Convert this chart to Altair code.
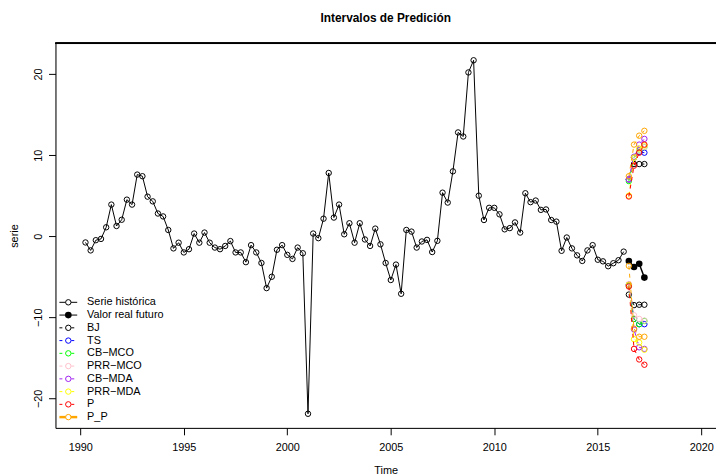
import altair as alt
import pandas as pd

# ---------------- data ----------------
serie = [-0.77, -1.75, -0.49, -0.33, 1.10, 3.90, 1.26, 2.03, 4.51, 3.90,
         7.60, 7.40, 4.88, 4.30, 2.80, 2.44, 0.77, -1.50, -0.80, -2.00,
         -1.60, 0.33, -0.80, 0.45, -0.80, -1.40, -1.60, -1.20, -0.60, -2.00,
         -2.00, -3.20, -1.10, -2.00, -3.30, -6.40, -5.00, -1.67, -1.10, -2.30,
         -2.80, -1.40, -2.10, -21.90, 0.33, -0.24, 2.16, 7.80, 2.30, 3.90,
         0.24, 1.60, -0.80, 1.60, -0.40, -1.20, 0.94, -1.00, -3.30, -5.40,
         -3.50, -7.10, 0.77, 0.57, -1.40, -0.65, -0.45, -1.95, -0.57, 5.37,
         4.15, 8.00, 12.80, 12.30, 20.20, 21.70, 5.00, 2.00, 3.50, 3.50,
         2.70, 0.85, 1.00, 1.70, 0.45, 5.30, 4.20, 4.40, 3.25, 3.30,
         2.00, 1.80, -1.80, -0.16, -1.50, -2.36, -3.05, -1.75, -1.10, -2.90,
         -3.10, -3.70, -3.33, -2.96, -1.90]
inicio = 1990.25
frecuencia = 4
tiempo = [inicio + i / frecuencia for i in range(len(serie))]

futuro = [-3.05, -3.80, -3.40, -5.10]
t_futuro = [2016.50, 2016.75, 2017.00, 2017.25]

metodos = ["BJ", "TS", "CB-MCO", "PRR-MCO", "CB-MDA", "PRR-MDA", "P", "P_P"]
colores = ["#000000", "#0000FF", "#00FF00", "#FFC0CB", "#A020F0", "#FFFF00", "#FF0000", "#FFA500"]

superior = {
    "BJ":      [7.0, 8.9, 8.9, 8.9],
    "TS":      [7.0, 9.7, 10.4, 10.3],
    "CB-MCO":  [6.8, 9.7, 10.6, 11.0],
    "PRR-MCO": [7.0, 9.7, 10.6, 11.0],
    "CB-MDA":  [7.0, 9.8, 11.3, 12.0],
    "PRR-MDA": [5.0, 9.7, 10.8, 11.2],
    "P":       [4.9, 8.7, 10.3, 11.3],
    "P_P":     [7.4, 11.3, 12.4, 13.0],
}
inferior = {
    "BJ":      [-7.2, -8.5, -8.45, -8.45],
    "TS":      [-6.0, -10.2, -10.85, -10.85],
    "CB-MCO":  [-6.1, -10.2, -10.85, -10.45],
    "PRR-MCO": [-5.9, -9.75, -10.2, -10.4],
    "CB-MDA":  [-6.0, -11.5, -13.7, -13.9],
    "PRR-MDA": [-6.0, -12.7, -13.1, -14.0],
    "P":       [-6.2, -13.9, -15.2, -15.85],
    "P_P":     [-3.66, -11.4, -12.4, -12.4],
}

leyenda_txt = ["Serie histórica", "Valor real futuro", "BJ", "TS", "CB\u2212MCO",
               "PRR\u2212MCO", "CB\u2212MDA", "PRR\u2212MDA", "P", "P_P"]
leyenda_col = ["#000000", "#000000"] + colores
leyenda_lin = ["solid", "solid"] + ["dashed"] * 7 + ["thick"]
leyenda_rel = ["open", "filled"] + ["open"] * 8

# ---------------- tables ----------------
hist_df = pd.DataFrame({"t": tiempo, "v": serie})
fut_df = pd.DataFrame({"t": t_futuro, "v": futuro})
rows = []
for m in metodos:
    for lim, d in (("sup", superior), ("inf", inferior)):
        for t, v in zip(t_futuro, d[m]):
            rows.append({"metodo": m, "limite": lim, "t": t, "v": v})
int_df = pd.DataFrame(rows)
leg_df = pd.DataFrame({"etiqueta": leyenda_txt, "color": leyenda_col,
                       "linea": leyenda_lin, "relleno": leyenda_rel,
                       "i": list(range(len(leyenda_txt)))})

FONT = "Liberation Sans"
W, H = 668, 389

xs = alt.Scale(domain=[1988.8, 2020.71], nice=False, zero=False)
ys = alt.Scale(domain=[-23.64, 23.80], nice=False, zero=False)
xaxis = alt.Axis(values=[1990, 1995, 2000, 2005, 2010, 2015, 2020], format="d",
                 grid=False, tickSize=7, tickColor="black", domainColor="black",
                 labelFont=FONT, labelFontSize=11, labelColor="black", labelPadding=7,
                 labelFlush=False, title="Time", titleFont=FONT, titleFontSize=11,
                 titleFontWeight="normal", titleColor="black", titlePadding=12)
yaxis = alt.Axis(values=[-20, -10, 0, 10, 20], grid=False, tickSize=7,
                 tickColor="black", domainColor="black", labelFont=FONT,
                 labelFontSize=11, labelColor="black", labelAngle=270,
                 labelAlign="center", labelBaseline="bottom", labelPadding=5,
                 labelFlush=False, title="serie", titleFont=FONT, titleFontSize=11,
                 titleFontWeight="normal", titleColor="black", titlePadding=13)

X = alt.X("t:Q", scale=xs, axis=xaxis)
Y = alt.Y("v:Q", scale=ys, axis=yaxis)

hist_line = alt.Chart(hist_df).mark_line(color="black", strokeWidth=1).encode(x=X, y=Y)
hist_pts = alt.Chart(hist_df).mark_point(shape="circle", filled=False, color="black",
                                         size=30, strokeWidth=1, opacity=1).encode(x=X, y=Y)
fut_line = alt.Chart(fut_df).mark_line(color="black", strokeWidth=1.5).encode(x=X, y=Y)
fut_pts = alt.Chart(fut_df).mark_point(shape="circle", filled=True, color="black",
                                       size=45, opacity=1).encode(x=X, y=Y)

capas = [hist_line, hist_pts, fut_line, fut_pts]
for m, c in zip(metodos, colores):
    base = alt.Chart(int_df).transform_filter(alt.datum.metodo == m)
    capas.append(base.mark_line(color=c, strokeWidth=1, strokeDash=[4, 4]).encode(
        x=X, y=Y, detail="limite:N"))
    capas.append(base.mark_point(shape="circle", filled=False, color=c, size=30,
                                 strokeWidth=1, opacity=1).encode(x=X, y=Y))
main = alt.layer(*capas)

# ---------------- legend (drawn like R's legend) ----------------
lb = alt.Chart(leg_df).transform_calculate(ly="262 + 12.9 * datum.i")
LY = alt.Y("ly:Q", scale=None, axis=None)
LC = alt.Color("color:N", scale=None)
leg_solid = lb.transform_filter("datum.linea == 'solid'").mark_rule(strokeWidth=1).encode(
    x=alt.value(4), x2=alt.value(22), y=LY, color=LC)
leg_dash = lb.transform_filter("datum.linea == 'dashed'").mark_rule(
    strokeWidth=1, strokeDash=[3, 3]).encode(x=alt.value(4), x2=alt.value(22), y=LY, color=LC)
leg_thick = lb.transform_filter("datum.linea == 'thick'").mark_rule(strokeWidth=2.5).encode(
    x=alt.value(4), x2=alt.value(22), y=LY, color=LC)
leg_open = lb.transform_filter("datum.relleno == 'open'").mark_point(
    shape="circle", filled=False, size=30, strokeWidth=1, opacity=1).encode(
    x=alt.value(13), y=LY, color=LC, fill=alt.value("white"))
leg_fill = lb.transform_filter("datum.relleno == 'filled'").mark_point(
    shape="circle", filled=True, size=45, opacity=1).encode(x=alt.value(13), y=LY, color=LC)
leg_text = lb.mark_text(align="left", baseline="middle", font=FONT, fontSize=11,
                        color="black").encode(x=alt.value(32), y=LY, text="etiqueta:N")
top_border = alt.Chart(leg_df).mark_rule(color="black", strokeWidth=1).encode(
    x=alt.value(0), x2=alt.value(W), y=alt.value(0))
legend = alt.layer(leg_solid, leg_dash, leg_thick, leg_open, leg_fill, leg_text, top_border)

chart = alt.layer(main, legend).resolve_scale(x="independent", y="independent").properties(
    width=W, height=H,
    title=alt.TitleParams("Intervalos de Predición", font=FONT, fontSize=12,
                          fontWeight="bold", color="black", anchor="middle", offset=18),
    autosize=alt.AutoSizeParams(type="none"),
    padding={"left": 48, "top": 33, "right": 0, "bottom": 45},
).configure_view(stroke=None).configure(background="white")

chart.save("out.html", embed_options={"renderer": "svg", "actions": False})
